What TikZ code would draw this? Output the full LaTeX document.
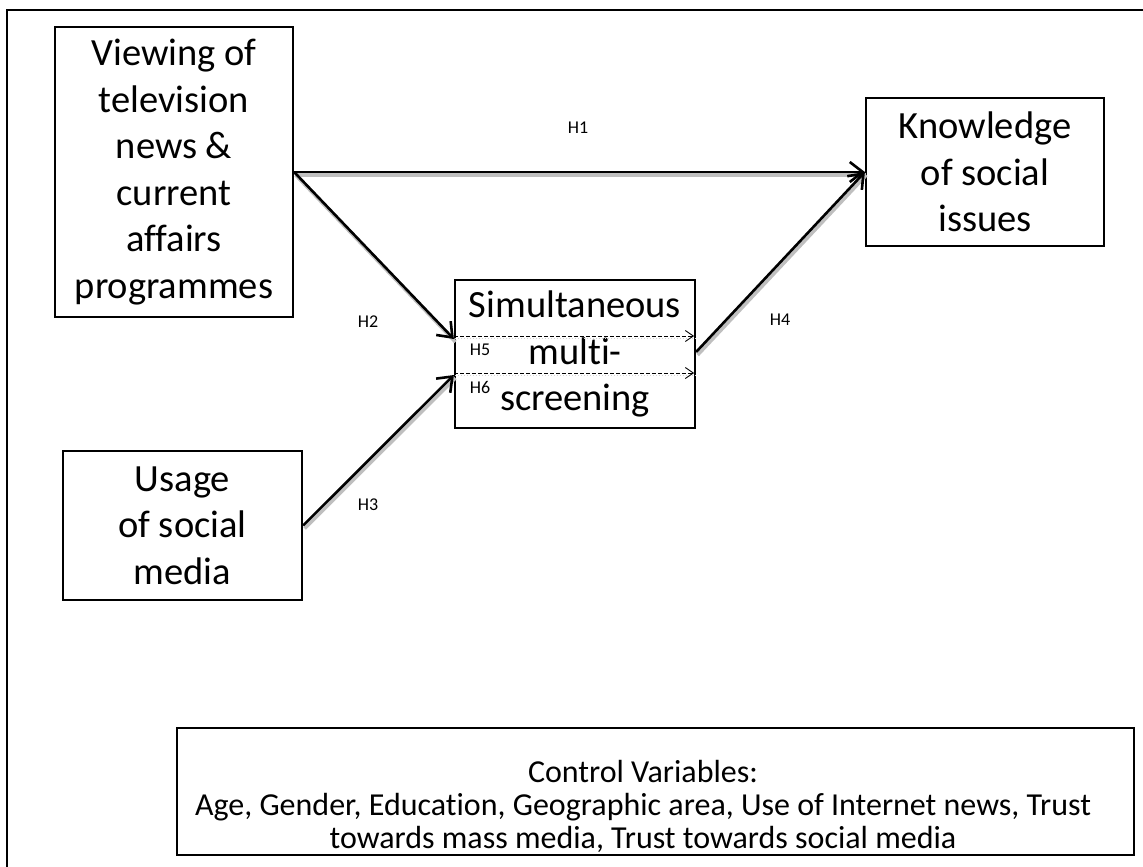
\documentclass[tikz,border=0pt]{standalone}
\usepackage{fontspec}
\setmainfont{Carlito}[Ligatures={NoCommon,NoRare,NoContextual}]
\usetikzlibrary{arrows.meta,calc}
\begin{document}
\begin{tikzpicture}[x=1pt,y=-1pt,
  box/.style={draw,line width=2.2pt,inner sep=0pt,align=center,
    font=\fontsize{38.5}{46.5}\selectfont},
  lbl/.style={font=\fontsize{18}{20}\selectfont,inner sep=0pt},
  mainarrow/.style={line width=2.6pt,-{Straight Barb[length=13pt,width=20pt,line width=2.6pt]},
    preaction={draw=gray!50,line width=3.5pt,-,transform canvas={shift={(1.5pt,-3pt)}}}},
  dasharrow/.style={line width=0.9pt,dash pattern=on 4pt off 2pt,
    -{Straight Barb[length=8pt,width=11pt,line width=0.9pt]},
    preaction={draw=gray!35,line width=1.5pt,-,solid,dash pattern=on 1.5pt off 1.5pt,transform canvas={shift={(1pt,-2.5pt)}}}}]
\useasboundingbox (0,0) rectangle (1143,867);
% outer frame (partially visible)
\draw[line width=2pt] (7,867) -- (7,10) -- (1143,10);
% boxes
\node[box,minimum width=238pt,minimum height=290pt] (V) at (174,172)
  {Viewing of\\television\\news \&\\current\\affairs\\programmes};
\node[box,minimum width=238pt,minimum height=148pt] (K) at (985,172)
  {Knowledge\\of social\\issues};
\node[box,minimum width=240pt,minimum height=148pt] (S) at (575,354)
  {Simultaneous\\multi-\\screening};
\node[box,minimum width=239pt,minimum height=149pt] (U) at (182.5,525.5)
  {Usage\\of social\\media};
\node[draw,line width=2.2pt,minimum width=957pt,minimum height=127pt] (C) at (655.5,791.5) {};
\node[align=center,font=\fontsize{32}{33}\selectfont] (CT) at (643,806)
  {Control Variables:\\Age, Gender, Education, Geographic area, Use of Internet news, Trust\\towards mass media, Trust towards social media};
% connectors
\coordinate (S2) at ($(S.west)+(0,-15)$);
\coordinate (S3) at ($(S.west)+(0,21)$);
\coordinate (S4) at ($(S.east)+(0,-2)$);
\draw[mainarrow] (V.east) -- (K.west);
\draw[mainarrow] (V.east) -- (S2);
\draw[mainarrow] (U.east) -- (S3);
\draw[mainarrow] (S4) -- (K.west);
\coordinate (D5a) at ($(S.west)+(0,-18)$);
\coordinate (D5b) at ($(S.east)+(-2,-18)$);
\coordinate (D6a) at ($(S.west)+(0,19)$);
\coordinate (D6b) at ($(S.east)+(-2,19)$);
\draw[dasharrow] (D5a) -- (D5b);
\draw[dasharrow] (D6a) -- (D6b);
% labels
\node[lbl] (H1) at (578,128) {H1};
\node[lbl] (H2) at (368,322) {H2};
\node[lbl] (H3) at (368,505) {H3};
\node[lbl] (H4) at (780,320) {H4};
\node[lbl] (H5) at (480,350) {H5};
\node[lbl] (H6) at (480,387) {H6};
\end{tikzpicture}
\end{document}
